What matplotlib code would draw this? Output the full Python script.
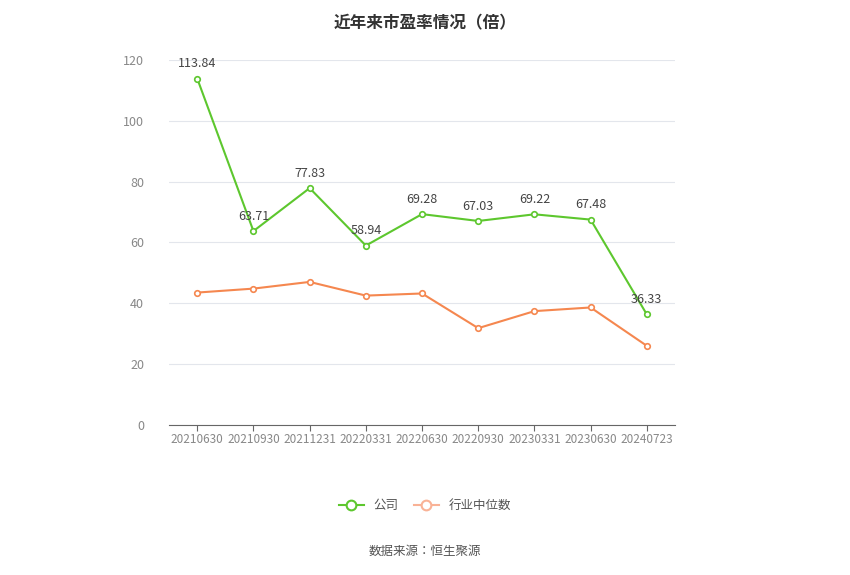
import matplotlib
matplotlib.use("Agg")
import matplotlib.pyplot as plt
from matplotlib import font_manager as fm

cjk = None
for f in fm.findSystemFonts():
    if "CJK" in f or "cjk" in f.lower():
        try:
            fm.fontManager.addfont(f)
        except Exception:
            pass
for name in ["Noto Sans CJK SC", "Noto Sans CJK JP", "Noto Sans CJK TC", "Noto Sans CJK KR"]:
    if any(e.name == name for e in fm.fontManager.ttflist):
        cjk = name
        break
plt.rcParams['font.family'] = [cjk or 'DejaVu Sans', 'DejaVu Sans']

categories = ["20210630","20210930","20211231","20220331","20220630","20220930","20230331","20230630","20240723"]
company = [113.84, 63.71, 77.83, 58.94, 69.28, 67.03, 69.22, 67.48, 36.33]
industry = [43.5, 44.8, 47.0, 42.5, 43.2, 31.8, 37.4, 38.6, 26.0]
yticks = [0, 20, 40, 60, 80, 100, 120]

fig = plt.figure(figsize=(8.5, 5.75), dpi=100)
ax = fig.add_axes([0.199, 0.261, 0.595, 0.635])
x = list(range(len(categories)))
ax.plot(x, company, color="#5dc72e", lw=1.5, marker='o', ms=4, mfc='white', mew=1.2, zorder=3)
ax.plot(x, industry, color="#f5874f", lw=1.5, marker='o', ms=4, mfc='white', mew=1.2, zorder=3)
for xi, v in zip(x, company):
    ax.annotate(f"{v:.2f}", (xi, v), xytext=(0, 6), textcoords='offset points', ha='center', va='bottom', fontsize=9, color='#444444')
ax.set_xlim(-0.5, len(categories) - 0.5)
ax.set_ylim(0, 120)
ax.set_yticks(yticks)
ax.set_xticks(x)
ax.set_xticklabels(categories)
ax.tick_params(axis='x', length=4, color='#666666', labelsize=8.5, labelcolor='#888888', pad=2)
ax.tick_params(axis='y', length=0, labelsize=9, labelcolor='#888888', pad=18)
ax.grid(axis='y', color='#e3e6ec', lw=0.8)
for s in ['top', 'right', 'left']:
    ax.spines[s].set_visible(False)
ax.spines['bottom'].set_color('#666666')
ax.set_axisbelow(True)
fig.text(0.5, 0.975, "近年来市盈率情况（倍）", ha='center', va='top', fontsize=12, fontweight='bold', color='#333333')
from matplotlib.lines import Line2D
h = [Line2D([], [], color="#5dc72e", lw=1.5, marker='o', ms=7, mfc='white', mew=1.5),
     Line2D([], [], color="#f9b296", lw=1.5, marker='o', ms=7, mfc='white', mew=1.5)]
fig.legend(h, ["公司", "行业中位数"], loc='center', bbox_to_anchor=(0.5, 0.121), ncol=2, frameon=False, fontsize=9, labelcolor='#555555', handlelength=2, columnspacing=1.2)
fig.text(0.5, 0.035, "数据来源：恒生聚源", ha='center', fontsize=9, color='#555555')
fig.savefig("out.png", dpi=100)
